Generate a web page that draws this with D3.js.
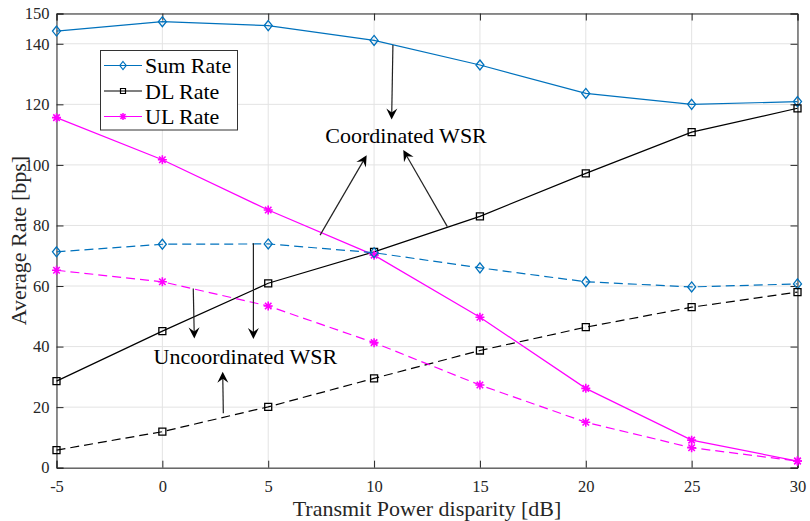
<!DOCTYPE html>
<html>
<head>
<meta charset="utf-8">
<script src="https://cdn.jsdelivr.net/npm/d3@7"></script>
<style>
  html, body { margin: 0; padding: 0; background: #fff; }
  svg { display: block; }
  text { font-family: "Liberation Serif", "Times New Roman", serif; }
</style>
</head>
<body>
<svg id="chart" width="810" height="521"></svg>
<script>
// ---- data ----
const xValues = [-5, 0, 5, 10, 15, 20, 25, 30];
const sumCoord = [144.2, 147.3, 146.0, 141.1, 133.0, 123.6, 120.0, 120.9];
const dlCoord = [28.6, 45.1, 60.9, 71.3, 83.0, 97.2, 110.8, 118.7];
const ulCoord = [115.6, 101.7, 85.1, 70.2, 49.7, 26.2, 9.1, 2.2];
const sumUncoord = [71.3, 73.8, 73.9, 71.0, 66.0, 61.4, 59.7, 60.7];
const dlUncoord = [5.8, 11.9, 20.1, 29.5, 38.7, 46.4, 53.0, 58.0];
const ulUncoord = [65.2, 61.4, 53.4, 41.3, 27.3, 15.0, 6.6, 2.2];
const xTicks = [-5, 0, 5, 10, 15, 20, 25, 30];
const yTicks = [0, 20, 40, 60, 80, 100, 120, 140, 150];
const legendLabels = ["Sum Rate", "DL Rate", "UL Rate"];
const annotationTexts = [
  { text: "Coordinated WSR", x: 11.51, y: 107.2 },
  { text: "Uncoordinated WSR", x: 3.92, y: 34.2 }
];
// arrows: [x1, y1, x2, y2] in data units (tail -> head)
const arrows = [
  [10.89, 139.6, 10.83, 115.0],
  [7.45, 76.8, 9.65, 103.2],
  [13.46, 79.6, 11.38, 104.9],
  [1.46, 59.2, 1.51, 42.7],
  [4.30, 74.1, 4.30, 42.5],
  [2.88, 18.0, 2.85, 31.7]
];

(function () {
// ---- layout ----
const svg = d3.select("#chart");
const pL = 56.5, pR = 797.5, pT = 13.5, pB = 467.7;
const x = d3.scaleLinear().domain([-5, 30]).range([pL, pR]);
const y = d3.scaleLinear().domain([0, 150]).range([pB, pT]);

const blue = "#0072BD", black = "#000000", magenta = "#FF00FF";
const axisColor = "#262626";
const serif = '"Liberation Serif", "Times New Roman", serif';

// grid
const grid = svg.append("g");
grid.selectAll(".gx").data(xTicks).join("line")
  .attr("x1", d => x(d)).attr("x2", d => x(d))
  .attr("y1", pT).attr("y2", pB)
  .attr("stroke", "#e3e3e3").attr("stroke-width", 1);
grid.selectAll(".gy").data(yTicks).join("line")
  .attr("x1", pL).attr("x2", pR)
  .attr("y1", d => y(d)).attr("y2", d => y(d))
  .attr("stroke", "#e3e3e3").attr("stroke-width", 1);

// axes
const tickLen = 7;
const fmt = d => String(d);
const xAxisB = d3.axisBottom(x).tickValues(xTicks).tickSize(-tickLen).tickPadding(12.5).tickFormat(fmt);
const xAxisT = d3.axisTop(x).tickValues(xTicks).tickSize(-tickLen).tickFormat("");
const yAxisL = d3.axisLeft(y).tickValues(yTicks).tickSize(-tickLen).tickPadding(7).tickFormat(fmt);
const yAxisR = d3.axisRight(y).tickValues(yTicks).tickSize(-tickLen).tickFormat("");

function styleAxis(g) {
  g.attr("font-family", serif).attr("font-size", 16.5);
  g.select(".domain").attr("stroke", axisColor).attr("stroke-width", 1);
  g.selectAll(".tick line").attr("stroke", axisColor).attr("stroke-width", 1);
  g.selectAll(".tick text").attr("fill", axisColor)
    .style("font-family", serif).style("font-size", "16.5px");
}
svg.append("g").attr("transform", `translate(0,${pB})`).call(xAxisB).call(styleAxis);
svg.append("g").attr("transform", `translate(0,${pT})`).call(xAxisT).call(styleAxis);
svg.append("g").attr("transform", `translate(${pL},0)`).call(yAxisL).call(styleAxis);
svg.append("g").attr("transform", `translate(${pR},0)`).call(yAxisR).call(styleAxis);

// axis labels
svg.append("text").attr("x", (pL + pR) / 2).attr("y", 516)
  .attr("text-anchor", "middle").attr("fill", axisColor)
  .style("font-size", "22px").text("Transmit Power disparity [dB]");
svg.append("text").attr("transform", `translate(26,${(pT + pB) / 2}) rotate(-90)`)
  .attr("text-anchor", "middle").attr("fill", axisColor)
  .style("font-size", "22px").text("Average Rate [bps]");

// ---- series ----
const line = d3.line().x((d, i) => x(xValues[i])).y(d => y(d));
const plot = svg.append("g");

function markerPath(type, s) {
  if (type === "diamond") {
    const h = s * 0.5, w = s * 0.4;
    return `M0,${-h}L${w},0L0,${h}L${-w},0Z`;
  }
  if (type === "square") {
    const h = s / 2;
    return `M${-h},${-h}H${h}V${h}H${-h}Z`;
  }
  const r = s / 2;
  let p = `M0,${-r}V${r}M${-r},0H${r}`;
  const d = r * 0.72;
  p += `M${-d},${-d}L${d},${d}M${-d},${d}L${d},${-d}`;
  return p;
}

const series = [
  { data: sumCoord, color: blue, marker: "diamond", size: 10, dash: null },
  { data: dlCoord, color: black, marker: "square", size: 7, dash: null },
  { data: ulCoord, color: magenta, marker: "asterisk", size: 9, dash: null },
  { data: sumUncoord, color: blue, marker: "diamond", size: 10, dash: "9,5" },
  { data: dlUncoord, color: black, marker: "square", size: 7, dash: "9,5" },
  { data: ulUncoord, color: magenta, marker: "asterisk", size: 9, dash: "9,5" }
];

series.forEach(s => {
  plot.append("path").datum(s.data).attr("d", line)
    .attr("fill", "none").attr("stroke", s.color).attr("stroke-width", 1.2)
    .attr("stroke-dasharray", s.dash);
  plot.selectAll(null).data(s.data).join("path")
    .attr("transform", (d, i) => `translate(${x(xValues[i])},${y(d)})`)
    .attr("d", markerPath(s.marker, s.size))
    .attr("fill", "none").attr("stroke", s.color)
    .attr("stroke-width", s.marker === "asterisk" ? 1.6 : 1.3);
});

// ---- annotations ----
const ann = svg.append("g");
function arrowHead(x1, y1, x2, y2) {
  const ang = Math.atan2(y2 - y1, x2 - x1);
  const L = 11, W = 5.5, notch = 4;
  const pts = [[0, 0], [-L, -W], [-L + notch, 0], [-L, W]];
  const c = Math.cos(ang), s = Math.sin(ang);
  return "M" + pts.map(p => [x2 + p[0] * c - p[1] * s, y2 + p[0] * s + p[1] * c].join(",")).join("L") + "Z";
}
arrows.forEach(a => {
  const [x1, y1, x2, y2] = [x(a[0]), y(a[1]), x(a[2]), y(a[3])];
  const ang = Math.atan2(y2 - y1, x2 - x1);
  ann.append("line").attr("x1", x1).attr("y1", y1)
    .attr("x2", x2 - 6 * Math.cos(ang)).attr("y2", y2 - 6 * Math.sin(ang))
    .attr("stroke", "#222").attr("stroke-width", 1.2);
  ann.append("path").attr("d", arrowHead(x1, y1, x2, y2)).attr("fill", "#000");
});
annotationTexts.forEach(t => {
  ann.append("text").attr("x", x(t.x)).attr("y", y(t.y))
    .attr("text-anchor", "middle").attr("fill", "#000")
    .style("font-size", "22px").text(t.text);
});

// ---- legend ----
const lg = svg.append("g");
lg.append("rect").attr("x", 100.5).attr("y", 50.5).attr("width", 137).attr("height", 79.5)
  .attr("fill", "#fff").attr("stroke", "#333").attr("stroke-width", 1);
const legendItems = [
  { color: blue, marker: "diamond", size: 8 },
  { color: black, marker: "square", size: 5 },
  { color: magenta, marker: "asterisk", size: 7 }
];
const rowY = [65.5, 91, 116.5];
legendItems.forEach((it, i) => {
  lg.append("line").attr("x1", 104).attr("x2", 142).attr("y1", rowY[i]).attr("y2", rowY[i])
    .attr("stroke", it.color).attr("stroke-width", 1.2);
  lg.append("path").attr("transform", `translate(123,${rowY[i]})`)
    .attr("d", markerPath(it.marker, it.size)).attr("fill", "none")
    .attr("stroke", it.color).attr("stroke-width", it.marker === "asterisk" ? 1.5 : 1.2);
  lg.append("text").attr("x", 145).attr("y", rowY[i] + 7.5).attr("fill", "#000")
    .style("font-size", "22px").text(legendLabels[i]);
});
})();
</script>
</body>
</html>
